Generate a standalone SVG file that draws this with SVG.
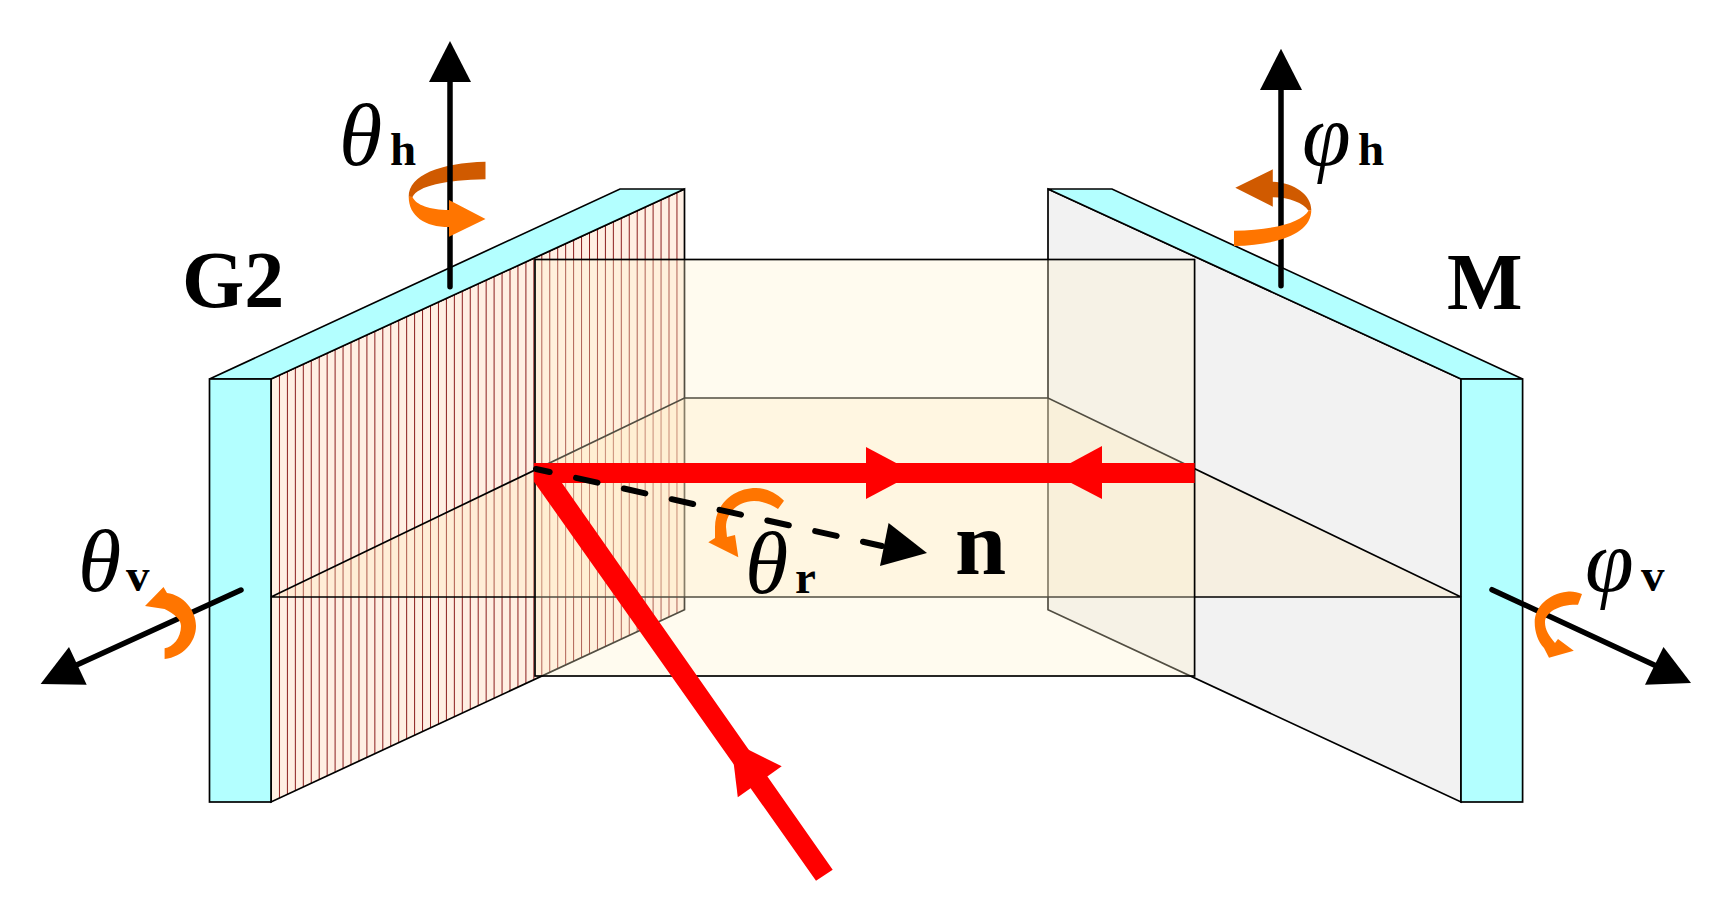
<svg xmlns="http://www.w3.org/2000/svg" width="1723" height="918" viewBox="0 0 1723 918">
<style>
.edge{stroke:#000;stroke-width:1.7;stroke-linejoin:miter}
.cyan{fill:#b3ffff}
.axis{stroke:#000;stroke-width:5.5;stroke-linecap:round;fill:none}
.dash{stroke:#000;stroke-width:6;stroke-linecap:round;fill:none;stroke-dasharray:22 27;stroke-dashoffset:8}
.head{fill:#000}
.red{fill:#f00}
.or{fill:#ff7500}
.dk{fill:#d05a00}
text{font-family:"Liberation Serif","Times New Roman",serif;fill:#000}
.big{font-weight:bold;font-size:80px}
.sym{font-style:italic;font-size:88px}
.sub{font-weight:bold;font-size:47px;font-style:normal}
</style>
<defs>
<pattern id="grating" patternUnits="userSpaceOnUse" x="271" y="0" width="7.95" height="10">
<rect width="7.95" height="10" fill="#ffefe3"/>
<rect x="0" width="1" height="10" fill="#8a1c1c"/>
</pattern>
</defs>
<rect width="1723" height="918" fill="#fff"/>
<g id="G2-grating">
<polygon class="edge" fill="url(#grating)" points="271,379 684.5,189 684.5,609.7 271,802"/>
<polygon class="edge cyan" points="209.5,379 620,189 684.5,189 271,379"/>
<rect class="edge cyan" x="209.5" y="379" width="61.5" height="423"/>
</g>
<g id="M-mirror">
<polygon class="edge" fill="#f2f2f2" points="1048,189 1461,379 1461,802 1048,609.7"/>
<polygon class="edge cyan" points="1048,189 1112,189 1522.6,379 1461,379"/>
<rect class="edge cyan" x="1461" y="379" width="61.6" height="423"/>
</g>
<g id="floor-plane">
<polygon class="edge" fill="#ffe9b8" fill-opacity="0.3" points="271,597 684.5,398 1048,398 1461,597"/>
</g>
<g id="beam-plane">
<rect x="535" y="259.5" width="659.6" height="416.5" fill="#fff2cd" fill-opacity="0.32" stroke="none"/>
<rect class="edge" x="535" y="259.5" width="659.6" height="416.5" fill="none"/>
</g>
<g id="connectors">
<polygon class="red" points="534,463 1194.6,463 1194.6,483 562,483 832.7,869.7 816,880.7 534,481.7"/>
<polygon class="red" points="866,447 915,473 866,499"/>
<polygon class="red" points="1102,446 1052,473 1102,499"/>
<polygon class="red" points="781.7,766.3 731,741 737.8,797.3"/>
<path class="or" d="M784,500.7C775,492 765,488 756,488C733,488 715,505 715,527L715,538L708.3,542.3L738.3,557.3L735,535L727,537L726,527C726,513 738,501 754,501C762,501 771,504 778,509Z"/>
<path class="dash" d="M536,469L882,546"/>
<polygon class="head" points="927,553 888.6,523 880,566"/>
<path class="dk" d="M485.5,161.7C440,163 408.7,175 408.7,196.7L412.5,197C418,186 445,180 485.5,179.3Z"/>
<path class="axis" d="M450,286.7V60"/>
<polygon class="head" points="450,41 429,82 471,82"/>
<path class="or" d="M408.7,196.7C408.7,216 425,227 449,227L449,236.7L485.5,219L449,200L449,210C430,210 416,205 412.5,197Z"/>
<path class="dk" d="M1235.3,187.7L1272.8,169.3L1272.8,181.7C1295,183 1311.3,195 1311.3,210L1308.5,210.7C1303,203 1290,197.5 1272.8,197.3L1272.8,206.7Z"/>
<path class="axis" d="M1281,285.7V70"/>
<polygon class="head" points="1281,48.7 1260,90 1302,90"/>
<path class="or" d="M1311.3,210C1311.3,233 1280,245 1234,246L1234,230.7C1275,230 1302,222 1308.5,210.7Z"/>
<path class="axis" d="M241,590L70,668"/>
<polygon class="head" points="40.6,684 69,647 86.7,684.7"/>
<path class="or" d="M163.5,587L145,606L164.6,609C175,614 181,620 181,626C181,638 173,647 164.6,648.3L164.6,659C183,657 196,642 196,626C196,610 183,595 167,593Z"/>
<path class="axis" d="M1492,589.7L1665,670"/>
<polygon class="head" points="1691,683 1663.5,647 1645,684.7"/>
<path class="or" d="M1582,594C1577,592 1572,591 1567,591.7C1548,594 1534.7,607 1534.7,622.3C1534.7,632 1538,642 1544,648L1549,657.7L1573.8,650.7L1558,639L1555,643C1549,636 1545,630 1545,622.3C1545,612 1560,604 1578,604.7Z"/>
</g>
<g id="labels">
<text class="big" x="182" y="307">G2</text>
<text class="big" x="1447" y="308.5">M</text>
<text x="955" y="574" font-weight="bold" font-size="92">n</text>
<text class="sym" x="339" y="165">θ<tspan class="sub" x="390">h</tspan></text>
<text class="sym" x="78" y="591">θ<tspan class="sub" x="126">v</tspan></text>
<text class="sym" x="745" y="593">θ<tspan class="sub" x="795">r</tspan></text>
<text class="sym" x="1302" y="165">φ<tspan class="sub" x="1358">h</tspan></text>
<text class="sym" x="1585" y="591">φ<tspan class="sub" x="1641">v</tspan></text>
</g>
</svg>
